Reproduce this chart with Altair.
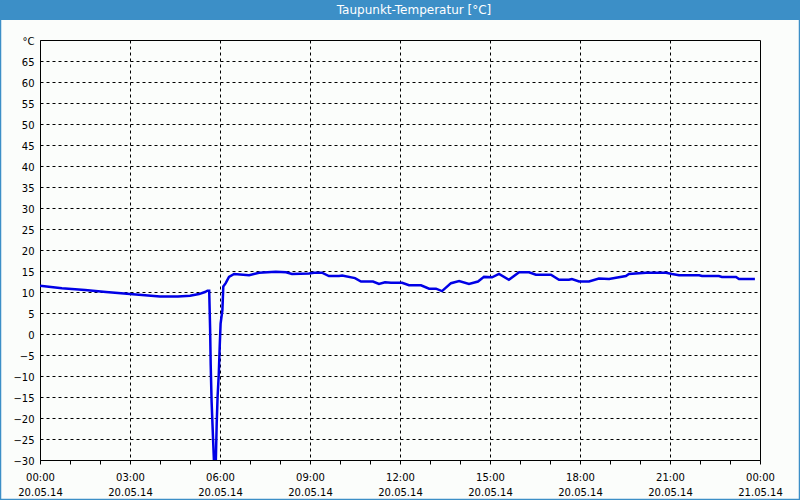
import json
import altair as alt
import pandas as pd

# ---- data ----
hours = [0, 0.73, 1.5, 2.2, 3.0, 3.5, 4.0, 4.6, 5.0, 5.3, 5.5, 5.58, 5.64,
         5.67, 5.69, 5.72, 5.77, 5.80, 5.86, 5.89, 5.92, 5.96, 5.99, 6.02,
         6.08, 6.11, 6.19, 6.3, 6.47, 6.97, 7.3, 7.86, 8.2, 8.4, 8.97, 9.13,
         9.4, 9.63, 9.97, 10.07, 10.5, 10.7, 11.1, 11.3, 11.5, 11.7, 12.07,
         12.3, 12.7, 12.97, 13.2, 13.4, 13.7, 13.97, 14.3, 14.6, 14.8, 15.07,
         15.3, 15.63, 15.97, 16.3, 16.53, 17.03, 17.3, 17.63, 17.73, 17.97,
         18.3, 18.63, 18.97, 19.2, 19.53, 19.63, 20.2, 20.87, 21.07, 21.3,
         21.97, 22.07, 22.63, 22.73, 23.2, 23.3, 23.83]
dewpoint = [11.5, 10.9, 10.5, 10.0, 9.5, 9.2, 8.9, 8.9, 9.1, 9.5, 10.0, 10.3, 10.3,
            1.4, -7.4, -16.1, -25.2, -30.5, -30.5, -21.3, -14.9, -9.4, -3.0, 2.5,
            5.7, 11.3, 12.1, 13.6, 14.3, 14.0, 14.6, 14.8, 14.7, 14.3, 14.4, 14.6,
            14.6, 13.8, 13.8, 13.9, 13.3, 12.5, 12.5, 11.9, 12.3, 12.2, 12.2,
            11.6, 11.6, 10.8, 10.8, 10.2, 12.1, 12.6, 11.9, 12.5, 13.6, 13.5,
            14.3, 12.9, 14.7, 14.7, 14.1, 14.1, 12.9, 12.9, 13.1, 12.5,
            12.5, 13.2, 13.1, 13.4, 13.8, 14.3, 14.6, 14.6, 14.3, 14.0,
            14.0, 13.8, 13.8, 13.6, 13.6, 13.1, 13.1]

title_text = "Taupunkt-Temperatur [°C]"
unit_label = "°C"
y_ticks = list(range(-30, 75, 5))
x_ticks = list(range(0, 25))
time_labels = ["00:00", "03:00", "06:00", "09:00", "12:00", "15:00", "18:00", "21:00", "00:00"]
date_labels = ["20.05.14"] * 8 + ["21.05.14"]

df = pd.DataFrame({"h": hours, "t": dewpoint})

FONT = "DejaVu Sans"
BLUE_BAR = "#3c8fc7"

x_label_expr = (
    f"datum.value % 3 == 0 ? [{json.dumps(time_labels)}[datum.value/3], "
    f"{json.dumps(date_labels)}[datum.value/3]] : ''"
)
y_label_expr = f"datum.value == 70 ? '{unit_label}' : datum.label"

line = alt.Chart(df).mark_line(color="#0000e6", strokeWidth=2.5, clip=True).encode(
    x=alt.X("h:Q", scale=alt.Scale(domain=[0, 24], nice=False, zero=False),
            axis=alt.Axis(values=x_ticks, labelExpr=x_label_expr, title=None,
                          tickSize=4, tickColor="black", labelPadding=8,
                          labelLineHeight=15, labelBaseline="top",
                          grid=True, gridColor="black", gridDash=[3, 3],
                          gridOpacity={"condition": {"test": "datum.value % 3 != 0 || datum.value == 0 || datum.value == 24", "value": 0}, "value": 1},
                          domainColor="black", labelFont=FONT, labelFontSize=10,
                          labelColor="black", labelFlush=False, labelOverlap=False)),
    y=alt.Y("t:Q", scale=alt.Scale(domain=[-30, 70], nice=False, zero=False),
            axis=alt.Axis(values=y_ticks + [70], labelExpr=y_label_expr, title=None,
                          ticks=False, labelPadding=6,
                          grid=True, gridColor="black", gridDash=[3, 3],
                          gridOpacity={"condition": {"test": "datum.value == 70 || datum.value == -30", "value": 0}, "value": 1},
                          domainColor="black", labelFont=FONT, labelFontSize=10,
                          labelColor="black", labelFlush=False, labelOverlap=False,
                          labelOffset=1)),
)

one = alt.Data(values=[{}])

bar = alt.Chart(one).mark_rect(color=BLUE_BAR).encode(
    x=alt.value(-40), x2=alt.value(760), y=alt.value(-40), y2=alt.value(-20))

title = alt.Chart(one).mark_text(color="white", font=FONT, fontSize=12,
                                 align="center", baseline="middle").encode(
    x=alt.value(374), y=alt.value(-30), text=alt.value(title_text))

border = alt.Chart(one).mark_rect(filled=False, stroke=BLUE_BAR, strokeWidth=1.5).encode(
    x=alt.value(-39.5), x2=alt.value(759.5), y=alt.value(-39.5), y2=alt.value(459.5))

chart = alt.layer(line, bar, title, border).properties(
    width=720, height=420,
    padding={"left": 40, "top": 40, "right": 40, "bottom": 40},
    autosize=alt.AutoSizeParams(type="none"),
    background="#fbfdfb",
).configure_view(stroke="black", strokeWidth=1)

chart.save("out.html", embed_options={"renderer": "svg", "actions": False})
